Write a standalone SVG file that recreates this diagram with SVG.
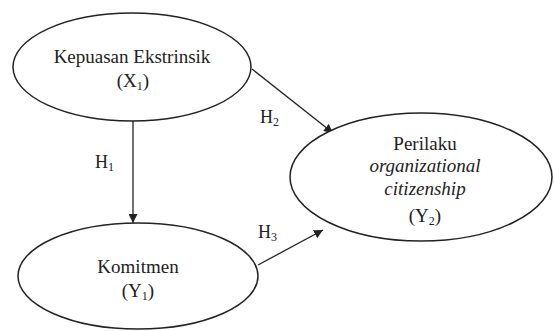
<svg xmlns="http://www.w3.org/2000/svg" width="554" height="331" viewBox="0 0 554 331">
<style>
text{font-family:"Liberation Serif","Times New Roman","DejaVu Serif",serif;fill:#222}
.t{font-size:19px;text-anchor:middle}
.l{font-size:18px}
.s{font-size:12px}
.n{fill:#fff;stroke:#222;stroke-width:1.5}
.c{stroke:#222;stroke-width:1.3;fill:none;marker-end:url(#a)}
</style>
<defs>
<marker id="a" viewBox="0 0 10 10" refX="10" refY="5" markerWidth="9" markerHeight="9" markerUnits="userSpaceOnUse" orient="auto">
<path d="M0,0L10,5L0,10z" fill="#222"/>
</marker>
</defs>
<rect width="554" height="331" fill="#fff"/>
<g id="connectors">
<line class="c" x1="133" y1="121" x2="133" y2="223"/>
<line class="c" x1="252" y1="69" x2="333" y2="133"/>
<line class="c" x1="258" y1="265" x2="323" y2="230"/>
</g>
<g id="x1">
<ellipse class="n" cx="132" cy="67" rx="119" ry="54"/>
<text class="t" x="132" y="63">Kepuasan Ekstrinsik</text>
<text class="t" x="133" y="87">(X<tspan class="s" dy="3">1</tspan><tspan dy="-3">)</tspan></text>
</g>
<g id="y1">
<ellipse class="n" cx="138" cy="276" rx="120" ry="53"/>
<text class="t" x="138" y="273">Komitmen</text>
<text class="t" x="138" y="297">(Y<tspan class="s" dy="3">1</tspan><tspan dy="-3">)</tspan></text>
</g>
<g id="y2">
<ellipse class="n" cx="421" cy="177" rx="131" ry="64"/>
<text class="t" x="425" y="150">Perilaku</text>
<text class="t" x="425" y="172" font-style="italic">organizational</text>
<text class="t" x="425" y="195" font-style="italic">citizenship</text>
<text class="t" x="425" y="222">(Y<tspan class="s" dy="3">2</tspan><tspan dy="-3">)</tspan></text>
</g>
<g id="labels">
<text class="l" x="95" y="168">H<tspan class="s" dy="3">1</tspan></text>
<text class="l" x="260" y="123">H<tspan class="s" dy="3">2</tspan></text>
<text class="l" x="258" y="238">H<tspan class="s" dy="3">3</tspan></text>
</g>
</svg>
